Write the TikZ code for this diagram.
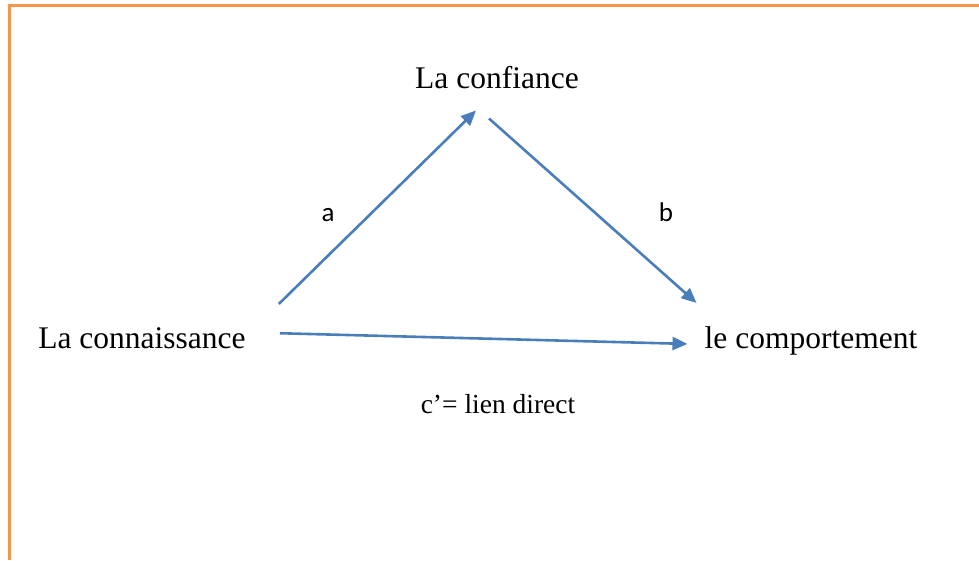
\documentclass[tikz,border=0pt]{standalone}
\usepackage{fontspec}
\setmainfont{Liberation Serif}
\newfontfamily\labelfont{Carlito}
\usepackage{tikz}
\usetikzlibrary{arrows.meta, calc}
\definecolor{frameorange}{HTML}{F79646}
\definecolor{arrowblue}{HTML}{4A7EBB}

\begin{document}
\begin{tikzpicture}[
    x=1pt, y=-1pt,
    concept/.style={inner sep=0pt, anchor=base, font=\fontsize{31.5}{36}\selectfont},
    note/.style={inner sep=0pt, anchor=base, font=\fontsize{27.5}{32}\selectfont},
    pathlabel/.style={inner sep=0pt, anchor=base, font=\labelfont\fontsize{27}{32}\selectfont},
    arrow/.style={-{Triangle[length=15pt, width=13pt]}, line width=2.6pt, color=arrowblue},
    frame/.style={line width=3pt, color=frameorange}
]
\useasboundingbox (0,0) rectangle (979,560);
\draw[frame] (9,560) -- (9,5) -- (979,5);

\node[concept] (conf) at (497,88) {La confiance};
\node[concept] (conn) at (142,348) {La connaissance};
\node[concept] (comp) at (811,348) {le comportement};
\node[note] (direct) at (498,413) {c’= lien direct};
\node[pathlabel] (a) at (328,221) {a};
\node[pathlabel] (b) at (666,221) {b};

\draw[arrow] ([shift={(33,-23)}]conn.north east) -- ([shift={(-21,22)}]conf.south);
\draw[arrow] ([shift={(-8,30)}]conf.south) -- ([shift={(-8,-23)}]comp.north west);
\draw[arrow] ([shift={(34,-4.5)}]conn.east) -- ([shift={(-17,3.5)}]comp.west);
\end{tikzpicture}
\end{document}
